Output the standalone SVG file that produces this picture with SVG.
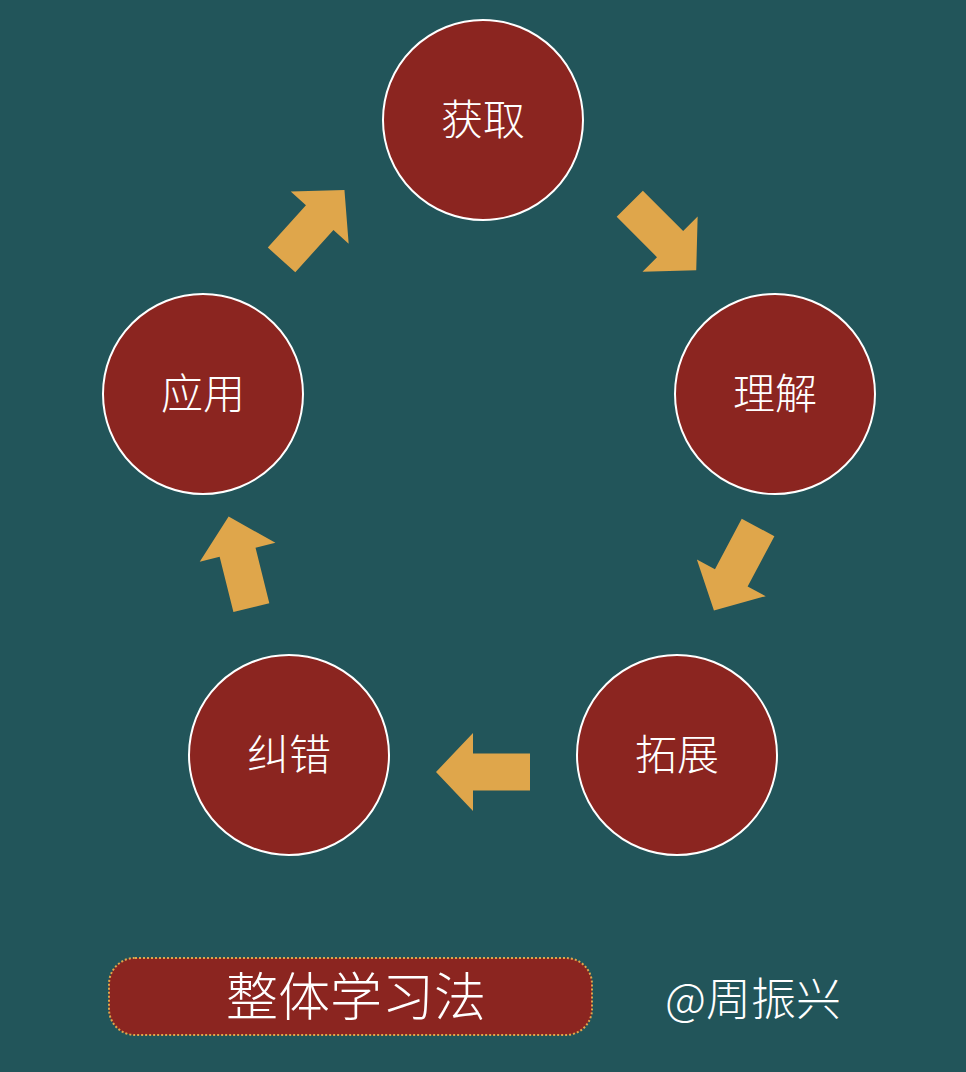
<svg xmlns="http://www.w3.org/2000/svg" width="966" height="1072" viewBox="0 0 966 1072">
<defs>
<style>
.n{fill:#8B2520;stroke:#fff;stroke-width:2}
.t{fill:#fff;font-family:"Noto Sans CJK SC",sans-serif;font-size:42px;text-anchor:middle;font-weight:300}
.a{fill:#DFA64B}
</style>
<path id="arr" d="M-47,-18.5 L10,-18.5 L10,-39 L47,0 L10,39 L10,18.5 L-47,18.5 Z"/>
</defs>
<rect width="966" height="1072" fill="#22555A"/>
<g id="connectors" class="a">
<use href="#arr" transform="translate(483,772) rotate(180)"/>
<use href="#arr" transform="translate(663,237) rotate(45)"/>
<use href="#arr" transform="translate(313,225) rotate(-48)"/>
<use href="#arr" transform="translate(736,569) rotate(118)"/>
<use href="#arr" transform="translate(240,562) rotate(-104)"/>
</g>
<g id="n1"><circle class="n" cx="483" cy="120" r="100"/><text class="t" x="483" y="135">获取</text></g>
<g id="n2"><circle class="n" cx="775" cy="394" r="100"/><text class="t" x="775" y="409">理解</text></g>
<g id="n3"><circle class="n" cx="677" cy="755" r="100"/><text class="t" x="677" y="770">拓展</text></g>
<g id="n4"><circle class="n" cx="289" cy="755" r="100"/><text class="t" x="289" y="770">纠错</text></g>
<g id="n5"><circle class="n" cx="203" cy="394" r="100"/><text class="t" x="203" y="409">应用</text></g>
<g id="title"><rect x="109" y="958" width="483" height="77" rx="26" fill="#8B2520" stroke="#DFA64B" stroke-width="2" stroke-dasharray="2 2"/><text class="t" x="356" y="1016" style="font-size:52px">整体学习法</text></g>
<text class="t" x="753" y="1016" style="font-size:45px">@周振兴</text>
</svg>
